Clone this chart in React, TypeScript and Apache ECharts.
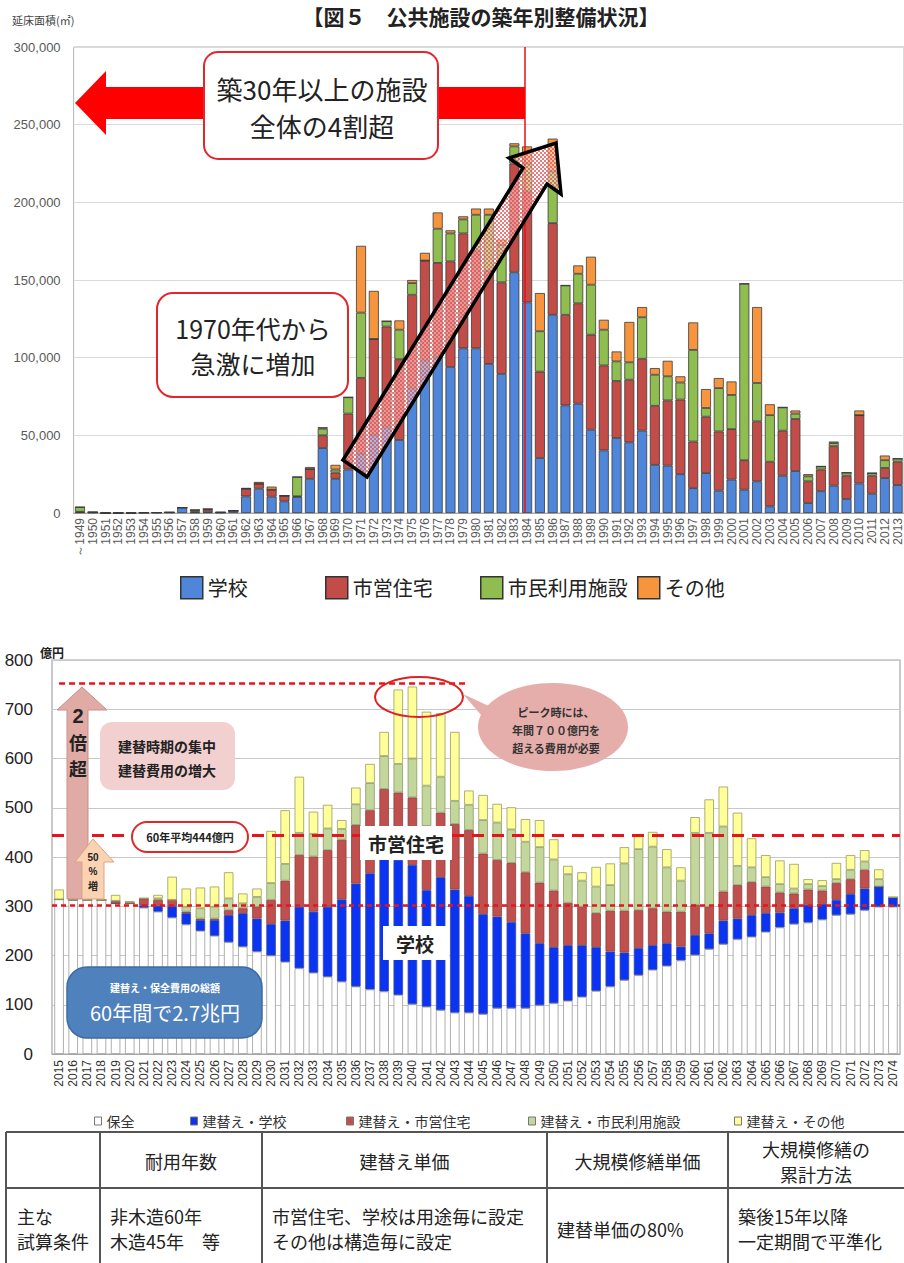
import React, { useEffect, useRef } from 'react';
import * as echarts from 'echarts';

const CJK = '"Noto Sans CJK JP", "Noto Sans", sans-serif';
const LAT = '"Liberation Sans", Arial, sans-serif';

// ---------- 図5: 公共施設の築年別整備状況 (延床面積 ㎡) ----------
const builtYears: string[] = Array.from({ length: 65 }, (_, i) => String(1949 + i));

const areaSchool = [
  500, 300, 0, 0, 0, 200, 300, 400, 3500, 400, 500, 300, 1500,
  10700, 15600, 10500, 7500, 10300, 22000, 41800, 22000,
  28000, 38000, 50000, 55000, 47000, 80000, 98000, 100000, 94000, 106000,
  106000, 96000, 89500, 155000, 135600, 35400, 127600, 69300, 70400, 53600,
  40300, 48300, 45500, 53000, 31000, 30500, 25000, 16000, 25700, 14400,
  21500, 15000, 20400, 4300, 24000, 27000, 6400, 14000, 17600, 9000,
  19000, 12400, 22500, 18000,
];
const areaHousing = [
  300, 200, 0, 0, 0, 0, 0, 0, 0, 600, 1500, 0, 0,
  4900, 3300, 4500, 3600, 500, 6300, 8200, 4000,
  36000, 49000, 62000, 65000, 52000, 60500, 64500, 61000, 68000, 74000,
  63000, 60000, 59000, 70000, 71400, 55600, 59000, 58300, 64600, 61200,
  54700, 36700, 40300, 46300, 38000, 42000, 48000, 30000, 36300, 38100,
  32500, 19000, 38600, 28700, 29000, 33500, 14000, 14000, 25400, 15000,
  44000, 11600, 6500, 15000,
];
const areaCivic = [
  3000, 0, 0, 0, 0, 100, 0, 0, 0, 1000, 600, 200, 0,
  0, 0, 0, 0, 12400, 0, 4200, 2000,
  10500, 42000, 0, 3500, 19000, 7500, 0, 22000, 18000, 9000,
  23000, 36000, 24000, 11000, 18000, 26000, 33300, 18900, 19000, 32200,
  23000, 12600, 11200, 26700, 20000, 15500, 11000, 59000, 5600, 27900,
  22000, 113600, 24700, 30000, 15000, 3500, 3200, 2000, 2000, 2000,
  0, 1700, 5000, 2000,
];
const areaOther = [
  0, 0, 0, 0, 0, 0, 0, 0, 0, 0, 0, 0, 0,
  500, 1100, 2000, 0, 0, 1300, 1100, 3000,
  0, 43000, 31000, 0, 6000, 2000, 5000, 10500, 2000, 2000,
  4000, 4000, 3500, 2000, 11000, 24600, 21100, 0, 5400, 18000,
  6400, 6400, 26000, 6600, 4300, 10000, 4000, 17700, 12200, 6500,
  8700, 0, 48900, 7000, 0, 2000, 1400, 0, 1000, 0,
  3000, 0, 3000, 0,
];

// ---------- 将来の建替え・保全費用 (億円) ----------
const costYears: string[] = Array.from({ length: 60 }, (_, i) => String(2015 + i));

const costMaintenance = [
  314, 313, 313, 313, 306, 306, 297, 289, 277, 263,
  250, 240, 227, 218, 208, 200, 187, 174, 165, 157,
  147, 137, 131, 127, 120, 101, 96, 89, 84, 84,
  81, 93, 93, 93, 99, 103, 108, 116, 128, 137,
  150, 160, 171, 179, 190, 201, 213, 223, 233, 238,
  248, 257, 264, 267, 273, 282, 284, 292, 299, 299,
];
const costSchool = [
  0, 0, 0, 0, 0, 0, 5, 12, 23, 23,
  22, 32, 55, 68, 67, 64, 84, 125, 124, 142,
  167, 209, 236, 270, 274, 283, 237, 270, 250, 237,
  203, 186, 175, 152, 126, 114, 113, 105, 89, 71,
  56, 55, 50, 46, 28, 41, 32, 48, 42, 44,
  38, 30, 32, 36, 32, 31, 41, 44, 41, 19,
];
const costHousing = [
  0, 0, 0, 0, 5, 0, 14, 12, 13, 3,
  3, 3, 10, 10, 24, 49, 81, 105, 112, 115,
  121, 119, 128, 141, 137, 137, 130, 131, 133, 134,
  123, 115, 120, 124, 123, 115, 86, 78, 69, 83,
  85, 77, 75, 64, 71, 61, 54, 59, 68, 67,
  54, 41, 30, 31, 27, 34, 30, 38, 0, 0,
];
const costCivic = [
  0, 0, 0, 0, 0, 3, 0, 3, 0, 10,
  21, 24, 24, 10, 20, 34, 34, 45, 46, 44,
  22, 42, 55, 67, 58, 79, 82, 73, 47, 51,
  68, 76, 68, 62, 72, 63, 58, 53, 54, 52,
  96, 124, 125, 90, 63, 146, 150, 132, 39, 30,
  19, 17, 10, 11, 9, 8, 19, 17, 15, 0,
];
const costOther = [
  20, 0, 0, 0, 12, 0, 0, 7, 47, 37,
  42, 41, 53, 20, 17, 106, 109, 114, 45, 48,
  18, 34, 39, 49, 151, 146, 150, 129, 140, 29,
  51, 38, 45, 46, 55, 41, 17, 17, 40, 44,
  33, 29, 30, 37, 27, 32, 68, 81, 108, 59,
  45, 48, 50, 10, 12, 33, 30, 23, 20, 0,
];

const averageCost = 444;
const baseCost = 302;
const peakCost = 752;

// ---------- table ----------
const tableHeader = ['耐用年数', '建替え単価', '大規模修繕単価', '大規模修繕の\n累計方法'];
const tableRowHead = '主な\n試算条件';
const tableRow = ['非木造60年\n木造45年　等', '市営住宅、学校は用途毎に設定\nその他は構造毎に設定', '建替単価の80%', '築後15年以降\n一定期間で平準化'];

// small red/white checker tile used to fill the rising arrow
function makeCheckerPattern(): string {
  const c = document.createElement('canvas');
  c.width = 4;
  c.height = 4;
  const ctx = c.getContext('2d');
  if (!ctx) return '';
  ctx.fillStyle = 'rgba(255,255,255,0.45)';
  ctx.fillRect(0, 0, 4, 4);
  ctx.fillStyle = 'rgba(230,70,70,0.72)';
  ctx.fillRect(0, 0, 2, 2);
  ctx.fillRect(2, 2, 2, 2);
  return c.toDataURL();
}

function txt(x: number, y: number, text: string, fontSize: number, extra: any = {}, z = 60) {
  return {
    type: 'text',
    x,
    y,
    z,
    style: {
      text,
      fontSize,
      fontFamily: CJK,
      fill: '#222',
      align: 'center',
      verticalAlign: 'middle',
      ...extra,
    },
  };
}

function buildOption() {
  const pattern = makeCheckerPattern();

  const topBar = (name: string, data: number[], color: string) => ({
    name,
    type: 'bar',
    stack: 'area',
    xAxisIndex: 0,
    yAxisIndex: 0,
    barWidth: 10,
    data,
    itemStyle: { color, borderColor: '#3a3a3a', borderWidth: 0.8 },
  });
  const botBar = (name: string, data: number[], color: string, border: string) => ({
    name,
    type: 'bar',
    stack: 'cost',
    xAxisIndex: 1,
    yAxisIndex: 1,
    barWidth: 9.5,
    data,
    itemStyle: { color, borderColor: border, borderWidth: 0.8 },
  });

  const topLegend = (name: string, left: number) => ({
    data: [name],
    left,
    top: 576,
    padding: 0,
    icon: 'rect',
    itemWidth: 22,
    itemHeight: 22,
    selectedMode: false,
    itemStyle: { borderColor: '#333', borderWidth: 1.5 },
    textStyle: { fontSize: 20, fontFamily: CJK, color: '#222', padding: [0, 0, 0, 0] },
  });
  const botLegend = (name: string, left: number) => ({
    data: [name],
    left,
    top: 1114,
    padding: 0,
    icon: 'rect',
    itemWidth: 7,
    itemHeight: 8,
    selectedMode: false,
    itemStyle: { borderColor: '#777', borderWidth: 1 },
    textStyle: { fontSize: 14, fontFamily: CJK, color: '#333' },
  });

  const graphics: any[] = [];

  // ---- upper figure texts ----
  graphics.push(txt(481, 16, '【図５　公共施設の築年別整備状況】', 21, { fontWeight: 'bold' }));
  graphics.push(txt(12, 20, '延床面積(㎡)', 11, { align: 'left', fill: '#444' }));

  // 1983/1984 boundary line and the leftward arrow
  graphics.push({ type: 'line', z: 40, shape: { x1: 525, y1: 47, x2: 525, y2: 513 }, style: { stroke: '#e8101a', lineWidth: 1.5 } });
  graphics.push({
    type: 'polygon', z: 41,
    shape: { points: [[75, 103], [106, 71], [106, 87], [525, 87], [525, 119], [106, 119], [106, 135]] },
    style: { fill: '#ff0000' },
  });
  graphics.push({
    type: 'rect', z: 42,
    shape: { x: 204, y: 52, width: 234, height: 107, r: 14 },
    style: { fill: '#fff', stroke: '#e3262e', lineWidth: 2 },
  });
  graphics.push(txt(322, 88, '築30年以上の施設', 26, {}, 43));
  graphics.push(txt(322, 125, '全体の4割超', 26, {}, 43));

  graphics.push({
    type: 'rect', z: 42,
    shape: { x: 157, y: 293, width: 191, height: 104, r: 16 },
    style: { fill: '#fff', stroke: '#e3262e', lineWidth: 2 },
  });
  graphics.push(txt(253, 328, '1970年代から', 25, {}, 43));
  graphics.push(txt(253, 363, '急激に増加', 25, {}, 43));

  // rising diagonal arrow
  graphics.push({
    type: 'polygon', z: 45,
    shape: { points: [[343, 460], [523, 168], [509, 158], [556, 143], [561, 194], [547, 184], [367, 477]] },
    style: {
      fill: pattern ? { image: pattern, repeat: 'repeat', imageWidth: 4, imageHeight: 4 } : 'rgba(240,120,120,0.6)',
      stroke: '#000',
      lineWidth: 3.5,
      lineJoin: 'miter',
    },
  });

  // ---- lower figure annotations ----
  graphics.push(txt(40, 652, '億円', 12, { align: 'left', fontWeight: 'bold' }));

  graphics.push({
    type: 'polygon', z: 44,
    shape: { points: [[82, 687], [57, 710], [67, 710], [67, 899], [88, 899], [88, 710], [107, 710]] },
    style: { fill: '#e0aaa5', stroke: '#c9908b', lineWidth: 1 },
  });
  graphics.push(txt(78, 716, '2', 20, { fontWeight: 'bold', fontFamily: LAT }, 45));
  graphics.push(txt(78, 742, '倍', 18, { fontWeight: 'bold' }, 45));
  graphics.push(txt(78, 768, '超', 18, { fontWeight: 'bold' }, 45));

  graphics.push({
    type: 'polygon', z: 44,
    shape: { points: [[93, 839], [75, 862], [82, 862], [82, 899], [104, 899], [104, 862], [114, 862]] },
    style: { fill: '#fbd3b3', stroke: '#d8a584', lineWidth: 1 },
  });
  graphics.push(txt(93, 857, '50', 10, { fontWeight: 'bold', fontFamily: LAT }, 45));
  graphics.push(txt(93, 871, '%', 10, { fontWeight: 'bold', fontFamily: LAT }, 45));
  graphics.push(txt(93, 885, '増', 10, { fontWeight: 'bold' }, 45));

  graphics.push({
    type: 'rect', z: 44,
    shape: { x: 100, y: 722, width: 135, height: 68, r: 12 },
    style: { fill: '#f1d0cf' },
  });
  graphics.push(txt(167, 746, '建替時期の集中', 14, { fontWeight: 'bold' }, 45));
  graphics.push(txt(167, 770, '建替費用の増大', 14, { fontWeight: 'bold' }, 45));

  graphics.push({
    type: 'rect', z: 44,
    shape: { x: 132, y: 822, width: 116, height: 30, r: 15 },
    style: { fill: '#fff', stroke: '#e02828', lineWidth: 2 },
  });
  graphics.push(txt(190, 837, '60年平均444億円', 11, { fontWeight: 'bold' }, 45));

  graphics.push({
    type: 'rect', z: 44,
    shape: { x: 67, y: 967, width: 195, height: 71, r: 20 },
    style: { fill: '#4f81bd', stroke: '#3d6ca3', lineWidth: 1.5 },
  });
  graphics.push(txt(165, 987, '建替え・保全費用の総額', 10, { fontWeight: 'bold', fill: '#fff' }, 45));
  graphics.push(txt(165, 1012, '60年間で2.7兆円', 20, { fill: '#fff' }, 45));

  graphics.push({ type: 'rect', z: 44, shape: { x: 360, y: 826, width: 92, height: 34 }, style: { fill: '#fff' } });
  graphics.push(txt(406, 843, '市営住宅', 19, { fontWeight: 'bold' }, 45));
  graphics.push({ type: 'rect', z: 44, shape: { x: 383, y: 926, width: 66, height: 34 }, style: { fill: '#fff' } });
  graphics.push(txt(415, 943, '学校', 19, { fontWeight: 'bold' }, 45));

  graphics.push({
    type: 'ellipse', z: 44,
    shape: { cx: 419, cy: 697, rx: 44, ry: 20 },
    style: { fill: 'none', stroke: '#e02020', lineWidth: 2 },
  });
  graphics.push({
    type: 'polygon', z: 44,
    shape: { points: [[463, 694], [493, 708], [487, 722]] },
    style: { fill: '#e6aeaa' },
  });
  graphics.push({
    type: 'ellipse', z: 44,
    shape: { cx: 553, cy: 727, rx: 75, ry: 44 },
    style: { fill: '#e6aeaa' },
  });
  graphics.push(txt(556, 712, 'ピーク時には、', 11, { fontWeight: 'bold', fill: '#333' }, 45));
  graphics.push(txt(556, 730, '年間７００億円を', 11, { fontWeight: 'bold', fill: '#333' }, 45));
  graphics.push(txt(556, 748, '超える費用が必要', 11, { fontWeight: 'bold', fill: '#333' }, 45));

  // ---- conditions table ----
  const colX = [6, 100, 262, 547, 728, 904];
  const tTop = 1132;
  const tMid = 1188;
  const tBot = 1263;
  const lineStyle = { stroke: '#555', lineWidth: 2 };
  graphics.push({ type: 'line', z: 30, shape: { x1: 6, y1: tTop, x2: 904, y2: tTop }, style: lineStyle });
  graphics.push({ type: 'line', z: 30, shape: { x1: 6, y1: tMid, x2: 904, y2: tMid }, style: lineStyle });
  colX.slice(0, 5).forEach((x) => {
    graphics.push({ type: 'line', z: 30, shape: { x1: x, y1: tTop, x2: x, y2: tBot }, style: lineStyle });
  });
  tableHeader.forEach((h, i) => {
    const cx = (colX[i + 1] + colX[i + 2]) / 2;
    const lines = h.split('\n');
    if (lines.length === 1) {
      graphics.push(txt(cx, 1161, h, 18, {}, 31));
    } else {
      graphics.push(txt(cx, 1149, lines[0], 18, {}, 31));
      graphics.push(txt(cx, 1174, lines[1], 18, {}, 31));
    }
  });
  const rowHeadLines = tableRowHead.split('\n');
  graphics.push(txt(17, 1216, rowHeadLines[0], 18, { align: 'left' }, 31));
  graphics.push(txt(17, 1241, rowHeadLines[1], 18, { align: 'left' }, 31));
  tableRow.forEach((cell, i) => {
    const x = colX[i + 1] + 10;
    const lines = cell.split('\n');
    if (lines.length === 1) {
      graphics.push(txt(x, 1229, cell, 18, { align: 'left' }, 31));
    } else {
      graphics.push(txt(x, 1216, lines[0], 18, { align: 'left' }, 31));
      graphics.push(txt(x, 1241, lines[1], 18, { align: 'left' }, 31));
    }
  });

  return {
    animation: false,
    backgroundColor: '#fff',
    grid: [
      { left: 73.6, top: 47, width: 836, height: 466, show: true, borderColor: '#b5b5b5', borderWidth: 1, backgroundColor: 'transparent' },
      { left: 52, top: 660, width: 848, height: 394, show: true, borderColor: '#a6a6a6', borderWidth: 1.2, backgroundColor: 'transparent' },
    ],
    xAxis: [
      {
        type: 'category',
        gridIndex: 0,
        data: builtYears,
        axisLine: { lineStyle: { color: '#a6a6a6' } },
        axisTick: { show: false },
        axisLabel: {
          interval: 0,
          rotate: 90,
          fontSize: 12,
          fontFamily: LAT,
          color: '#595959',
          margin: 5,
          formatter: (v: string) => (v === '1949' ? '～1949' : v),
        },
      },
      {
        type: 'category',
        gridIndex: 1,
        data: costYears,
        axisLine: { lineStyle: { color: '#a6a6a6' } },
        axisTick: { show: false },
        axisLabel: { interval: 0, rotate: 90, fontSize: 12, fontFamily: LAT, color: '#333', margin: 6 },
      },
    ],
    yAxis: [
      {
        type: 'value',
        gridIndex: 0,
        min: 0,
        max: 300000,
        interval: 50000,
        axisLine: { show: false },
        axisTick: { show: false },
        splitLine: { lineStyle: { color: '#dadada' } },
        axisLabel: {
          fontSize: 13,
          fontFamily: LAT,
          color: '#595959',
          margin: 13,
          formatter: (v: number) => v.toLocaleString('en-US'),
        },
      },
      {
        type: 'value',
        gridIndex: 1,
        min: 0,
        max: 800,
        interval: 100,
        axisLine: { show: false },
        axisTick: { show: false },
        splitLine: { lineStyle: { color: '#c8c8c8' } },
        axisLabel: { fontSize: 17, fontFamily: LAT, color: '#222', margin: 19 },
      },
    ],
    legend: [
      topLegend('学校', 180),
      topLegend('市営住宅', 325),
      topLegend('市民利用施設', 480),
      topLegend('その他', 637),
      botLegend('保全', 94),
      botLegend('建替え・学校', 190),
      botLegend('建替え・市営住宅', 346),
      botLegend('建替え・市民利用施設', 528),
      botLegend('建替え・その他', 734),
    ],
    series: [
      topBar('学校', areaSchool, '#4f86d9'),
      topBar('市営住宅', areaHousing, '#c24c47'),
      topBar('市民利用施設', areaCivic, '#8fbd50'),
      topBar('その他', areaOther, '#f7953f'),
      botBar('保全', costMaintenance, '#ffffff', '#9a9a9a'),
      botBar('建替え・学校', costSchool, '#0b34f2', '#3a4aa0'),
      botBar('建替え・市営住宅', costHousing, '#c0504d', '#8a4040'),
      botBar('建替え・市民利用施設', costCivic, '#c3d69b', '#8a9a6a'),
      {
        ...botBar('建替え・その他', costOther, '#ffff99', '#9a9a60'),
        markLine: {
          silent: true,
          symbol: 'none',
          label: { show: false },
          data: [
            [
              { xAxis: -0.2, yAxis: peakCost, lineStyle: { color: '#e8141c', type: [6, 4], width: 2.5 } },
              { xAxis: 28.6, yAxis: peakCost },
            ],
            { yAxis: averageCost, lineStyle: { color: '#e8141c', type: [12, 8], width: 3 } },
            { yAxis: baseCost, lineStyle: { color: '#e8141c', type: [5, 4], width: 2.5 } },
          ],
        },
      },
    ],
    graphic: { elements: graphics },
  };
}

export default function App() {
  const ref = useRef<HTMLDivElement>(null);
  useEffect(() => {
    if (!ref.current) return;
    const chart = echarts.init(ref.current, undefined, { renderer: 'svg' });
    chart.setOption(buildOption() as any);
    return () => chart.dispose();
  }, []);
  return (
    <div
      ref={ref}
      style={{ position: 'absolute', left: 0, top: 0, width: 904, height: 1263, background: '#fff' }}
    />
  );
}
